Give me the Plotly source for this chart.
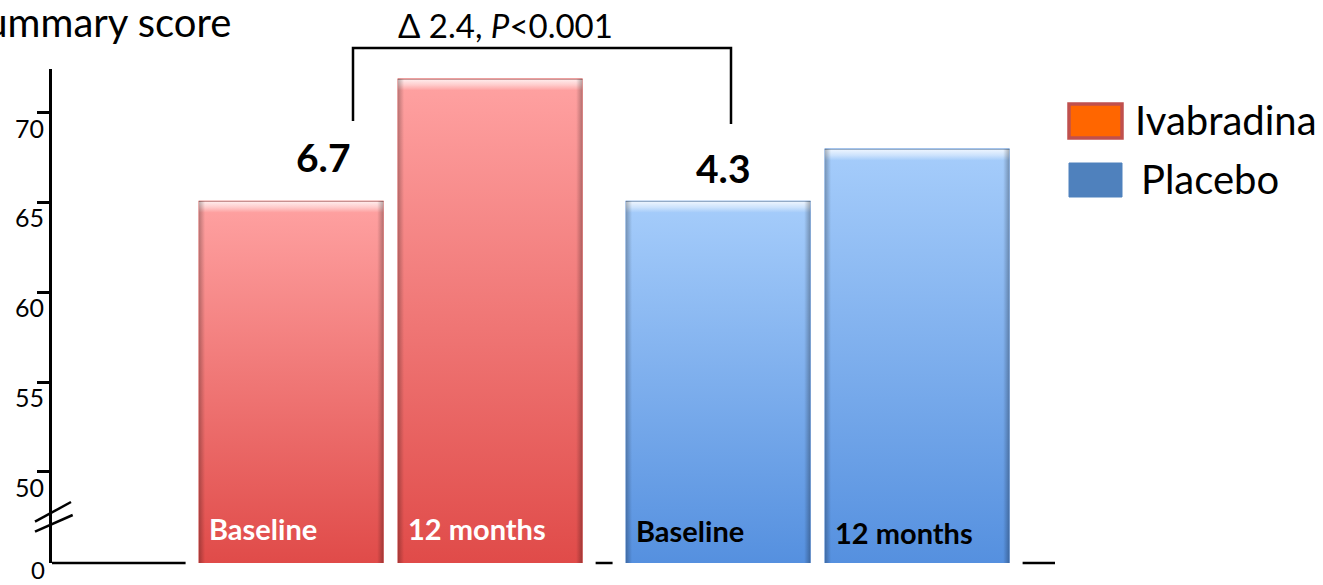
import base64
import plotly.graph_objects as go

# ---- data -------------------------------------------------------------
groups = ["Ivabradina", "Placebo"]
timepoints = ["Baseline", "12 months"]
baseline_scores = [65.1, 65.1]
month12_scores = [71.9, 68.0]
change_labels = ["6.7", "4.3"]
comparison_label = "Δ 2.4, <i>P</i>&lt;0.001"
y_tick_values = [50, 55, 60, 65, 70]
y_tick_labels = ["50", "55", "60", "65", "70"]
axis_title = "Summary score"

# ---- styling ----------------------------------------------------------
FONT = "Lato, 'Open Sans', sans-serif"
RED_TOP, RED_BOTTOM = "#FFA2A2", "#E04B49"
BLUE_TOP, BLUE_BOTTOM = "#A6CDFB", "#5590DF"
LEGEND_FILL = ["#FF6600", "#4F81BD"]
LEGEND_EDGE = ["#C0504D", "#4F81BD"]
group_top = [RED_TOP, BLUE_TOP]
group_bottom = [RED_BOTTOM, BLUE_BOTTOM]
label_colour = ["white", "black"]

W, H = 1323, 585
L, R, T, B = 52, 268, 69, 22
PLOT_W, PLOT_H = W - L - R, H - T - B

# broken value axis: the bottom of the plot stands for 0
Y_LO, Y_HI = 44.93, 72.43
X_LO, X_HI = -0.793, 1.556
BARGAP, GROUPGAP = 0.068, 0.07
PX_PER_Y = PLOT_H / (Y_HI - Y_LO)
PX_PER_X = PLOT_W / (X_HI - X_LO)


def px_x(px):
    return (px - L) / PLOT_W


def px_y(py):
    return (H - B - py) / PLOT_H


def y_at(py):
    return Y_LO + (H - B - py) / PX_PER_Y


slot = (1 - BARGAP) / len(timepoints)
bar_w = slot * (1 - GROUPGAP)


def bar_left(gi, ti):
    return gi - (1 - BARGAP) / 2 + ti * slot + slot * GROUPGAP / 2


def bar_skin(top, bottom, w_px, h_px):
    bevel = 12 / h_px
    svg = f"""<svg xmlns='http://www.w3.org/2000/svg' width='{w_px:.0f}' height='{h_px:.0f}'
 viewBox='0 0 {w_px:.1f} {h_px:.1f}' preserveAspectRatio='none'>
<defs>
<linearGradient id='v' x1='0' y1='0' x2='0' y2='1'>
<stop offset='0' stop-color='{top}'/><stop offset='1' stop-color='{bottom}'/>
</linearGradient>
<linearGradient id='b' x1='0' y1='0' x2='0' y2='1'>
<stop offset='0' stop-color='#000' stop-opacity='0.10'/>
<stop offset='{bevel*0.15:.4f}' stop-color='#fff' stop-opacity='0.75'/>
<stop offset='{bevel*0.55:.4f}' stop-color='#fff' stop-opacity='0.45'/>
<stop offset='{bevel:.4f}' stop-color='#fff' stop-opacity='0'/>
<stop offset='1' stop-color='#fff' stop-opacity='0'/>
</linearGradient>
<linearGradient id='h' x1='0' y1='0' x2='1' y2='0'>
<stop offset='0' stop-color='#000' stop-opacity='0.28'/>
<stop offset='0.035' stop-color='#000' stop-opacity='0'/>
<stop offset='0.965' stop-color='#000' stop-opacity='0'/>
<stop offset='1' stop-color='#000' stop-opacity='0.30'/>
</linearGradient>
</defs>
<rect width='{w_px:.1f}' height='{h_px:.1f}' fill='url(#v)'/>
<rect width='{w_px:.1f}' height='{h_px:.1f}' fill='url(#b)'/>
<rect width='{w_px:.1f}' height='{h_px:.1f}' fill='url(#h)'/>
</svg>"""
    return "data:image/svg+xml;base64," + base64.b64encode(svg.encode()).decode()


fig = go.Figure()
series = [baseline_scores, month12_scores]
for ti, (tp, scores) in enumerate(zip(timepoints, series)):
    fig.add_trace(go.Bar(
        name=tp, x=groups, y=scores,
        marker=dict(color=group_bottom, line=dict(width=0)),
        showlegend=False,
        hovertemplate="%{x} – " + tp + ": %{y}<extra></extra>",
    ))

images, annotations, shapes = [], [], []

# gradient skin, bar captions
for ti, (tp, scores) in enumerate(zip(timepoints, series)):
    for gi, score in enumerate(scores):
        left = bar_left(gi, ti)
        images.append(dict(
            source=bar_skin(group_top[gi], group_bottom[gi],
                            bar_w * PX_PER_X, (score - Y_LO) * PX_PER_Y),
            xref="x", yref="y", x=left, y=score,
            sizex=bar_w, sizey=score - Y_LO,
            xanchor="left", yanchor="top", sizing="stretch", layer="above",
        ))
        annotations.append(dict(
            text=f"<b>{tp}</b>", xref="x", yref="y", x=left, xshift=8,
            y=y_at(528 + 2 * gi + 2 * ti * gi), xanchor="left", yanchor="middle",
            showarrow=False, font=dict(family=FONT, size=29, color=label_colour[gi]),
        ))

# x baseline visible between the bar halos
halo = 13 / PX_PER_X
first_left = bar_left(0, 0)
last_right = bar_left(len(groups) - 1, len(timepoints) - 1) + bar_w
segments = [(X_LO, first_left - halo)]
for gi in range(len(groups) - 1):
    segments.append((bar_left(gi, len(timepoints) - 1) + bar_w + halo,
                     bar_left(gi + 1, 0) - halo))
segments.append((last_right + halo, X_HI))
for x0, x1 in segments:
    shapes.append(dict(type="line", xref="x", yref="paper", x0=x0, x1=x1, y0=0, y1=0,
                       line=dict(color="black", width=2.5)))

# axis break marks
for (a, b) in [((35, 521.7), (71, 502)), ((35, 531.7), (72.7, 515))]:
    shapes.append(dict(type="line", xref="paper", yref="paper",
                       x0=px_x(a[0]), y0=px_y(a[1]), x1=px_x(b[0]), y1=px_y(b[1]),
                       line=dict(color="black", width=2.5)))

# comparison bracket
bx0, bx1, btop = 353, 731, 48
shapes.append(dict(
    type="path", xref="paper", yref="paper",
    path=(f"M {px_x(bx0)} {px_y(121)} L {px_x(bx0)} {px_y(btop)} "
          f"L {px_x(bx1)} {px_y(btop)} L {px_x(bx1)} {px_y(124)}"),
    line=dict(color="black", width=2.5),
))
annotations.append(dict(
    text=comparison_label, xref="paper", yref="paper", x=px_x(505), y=px_y(25),
    xanchor="center", yanchor="middle", showarrow=False,
    font=dict(family=FONT, size=33, color="black"),
))

# within-group change labels
annotations.append(dict(
    text=f"<b>{change_labels[0]}</b>", xref="paper", yref="paper", x=px_x(353), y=px_y(157),
    xanchor="right", yanchor="middle", showarrow=False,
    font=dict(family=FONT, size=39, color="black"),
))
annotations.append(dict(
    text=f"<b>{change_labels[1]}</b>", xref="paper", yref="paper", x=px_x(723), y=px_y(168),
    xanchor="center", yanchor="middle", showarrow=False,
    font=dict(family=FONT, size=39, color="black"),
))

# y tick labels (set just below their ticks) and the 0 at the break
for v, t in zip(y_tick_values, y_tick_labels):
    annotations.append(dict(
        text=t, xref="paper", yref="y", x=px_x(46), y=v, yshift=-15,
        xanchor="right", yanchor="middle", showarrow=False,
        font=dict(family=FONT, size=25, color="black"),
    ))
annotations.append(dict(
    text="0", xref="paper", yref="paper", x=px_x(46), y=px_y(585),
    xanchor="right", yanchor="bottom", showarrow=False, borderpad=0,
    font=dict(family=FONT, size=24, color="black"),
))

# axis title
annotations.append(dict(
    text=axis_title, xref="paper", yref="paper", x=px_x(233), y=px_y(22),
    xanchor="right", yanchor="middle", showarrow=False,
    font=dict(family=FONT, size=40, color="black"),
))

# legend
for i, (name, fill, edge) in enumerate(zip(groups, LEGEND_FILL, LEGEND_EDGE)):
    y0 = 103 + i * 59
    shapes.append(dict(
        type="rect", xref="paper", yref="paper",
        x0=px_x(1069), x1=px_x(1122), y0=px_y(y0 + 1), y1=px_y(y0 + 35),
        fillcolor=fill, line=dict(color=edge, width=3.5 if i == 0 else 1),
    ))
    annotations.append(dict(
        text=name, xref="paper", yref="paper", x=px_x(1133 + 6 * i), y=px_y(y0 + 17),
        xanchor="left", yanchor="middle", showarrow=False,
        font=dict(family=FONT, size=40, color="black"),
    ))

fig.update_layout(
    width=W, height=H,
    margin=dict(l=L, r=R, t=T, b=B),
    paper_bgcolor="white", plot_bgcolor="white",
    barmode="group", bargap=BARGAP, bargroupgap=GROUPGAP,
    showlegend=False,
    xaxis=dict(range=[X_LO, X_HI], showline=False, showticklabels=False,
               showgrid=False, zeroline=False, ticks=""),
    yaxis=dict(range=[Y_LO, Y_HI], tickvals=y_tick_values, showticklabels=False,
               ticks="outside", ticklen=12, tickwidth=2.5, tickcolor="black",
               showline=True, linecolor="black", linewidth=2.5,
               showgrid=False, zeroline=False),
    images=images, annotations=annotations, shapes=shapes,
    font=dict(family=FONT),
)

fig.write_html("out.html")
